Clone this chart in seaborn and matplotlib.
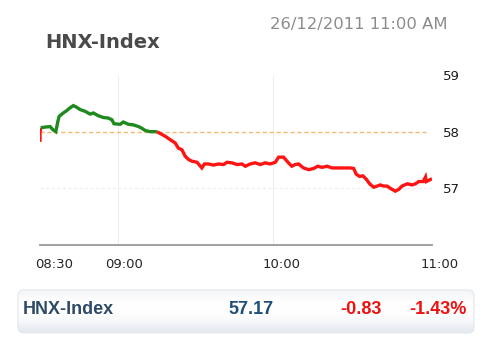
import matplotlib
matplotlib.use("Agg")
import matplotlib.pyplot as plt
import matplotlib.transforms as mtransforms
from matplotlib.patches import FancyBboxPatch
import numpy as np
import pandas as pd
import seaborn as sns

# ---- data ----
title = "HNX-Index"
timestamp = "26/12/2011 11:00 AM"
ref_close = 58.0
minutes = [0.0, 0.0, 0.3, 1.9, 3.9, 5.1, 6.1, 6.9, 7.4, 9.0, 10.3, 11.6, 12.9, 14.2, 15.5,
           17.4, 19.4, 20.6, 22.6, 24.5, 26.4, 27.8, 28.6, 31.0, 32.2, 34.2, 36.1, 38.1,
           39.4, 40.7, 42.6, 43.9, 45.2, 48.4, 50.3, 52.3, 53.5, 54.9, 56.1, 57.4, 58.7,
           60.7, 62.6, 63.6, 65.2, 67.1, 69.0, 71.0, 72.3, 74.2, 76.2, 78.1, 79.4, 81.3,
           83.2, 85.2, 87.1, 89.0, 91.0, 92.3, 94.2, 96.1, 97.4, 98.7, 100.0, 101.9,
           103.9, 105.8, 107.4, 109.1, 111.0, 112.9, 114.9, 117.4, 120.0, 121.3, 122.3,
           123.6, 124.9, 126.2, 127.5, 129.0, 130.4, 131.6, 132.9, 134.2, 135.5, 137.4,
           138.7, 140.0, 142.0, 143.9, 145.2, 146.5, 148.2, 149.1, 149.4, 150.3, 151.6]
values = [57.82, 57.98, 58.07, 58.08, 58.09, 58.03, 58.0, 58.18, 58.27, 58.33, 58.37, 58.42,
          58.46, 58.43, 58.39, 58.36, 58.31, 58.33, 58.28, 58.25, 58.24, 58.21, 58.14,
          58.13, 58.17, 58.13, 58.12, 58.09, 58.06, 58.02, 58.0, 58.0, 58.0, 57.92, 57.86,
          57.80, 57.71, 57.68, 57.57, 57.51, 57.48, 57.46, 57.36, 57.43, 57.43, 57.41,
          57.43, 57.42, 57.46, 57.45, 57.42, 57.43, 57.39, 57.43, 57.45, 57.42, 57.45,
          57.43, 57.46, 57.55, 57.55, 57.45, 57.39, 57.42, 57.43, 57.36, 57.33, 57.35,
          57.39, 57.37, 57.39, 57.36, 57.36, 57.36, 57.36, 57.35, 57.25, 57.21, 57.22,
          57.16, 57.08, 57.02, 57.04, 57.06, 57.04, 57.04, 57.0, 56.95, 56.98, 57.04,
          57.08, 57.06, 57.08, 57.12, 57.12, 57.20, 57.12, 57.14, 57.17]
tick_minutes = [0, 30, 90, 150]
tick_labels = ["08:30", "09:00", "10:00", "11:00"]
y_ticks = [57, 58, 59]
bar_name = "HNX-Index"
bar_value = "57.17"
bar_change = "-0.83"
bar_pct = "-1.43%"

# ---- figure ----
sns.set_theme(style="white")
plt.rcParams['font.family'] = ['DejaVu Sans']
W, H = 500, 357
fig = plt.figure(figsize=(W / 100, H / 100), dpi=100)
fig.patch.set_facecolor("white")

def px(x0, y0, x1, y1):
    return [x0 / W, 1 - y1 / H, (x1 - x0) / W, (y1 - y0) / H]

ax = fig.add_axes(px(40, 75, 432, 245))
ax.set_facecolor("white")

# build colored runs (green above previous close, red below)
df = pd.DataFrame({"t": minutes, "v": values})
up = (df["v"] >= ref_close).tolist()
runs = []
start = 0
cur = up[0] and up[1]
for i in range(1, len(df)):
    seg_up = up[i - 1] and up[i]
    if seg_up != cur:
        runs.append((start, i - 1, cur))
        start = i - 1
        cur = seg_up
runs.append((start, len(df) - 1, cur))

for a, b, is_up in runs:
    sub = df.iloc[a:b + 1].reset_index(drop=True)
    sns.lineplot(data=sub, x="t", y="v", ax=ax, color="#1e8a1e" if is_up else "#ff1414",
                 linewidth=2.4, sort=False, estimator=None, solid_joinstyle="miter",
                 solid_capstyle="butt", zorder=3)

# reference line
ax.plot([0, 150], [ref_close, ref_close], color="#f4b870", linewidth=1.0,
        linestyle=(0, (3, 2)), zorder=1)

ax.set_xlim(0, 151.6)
ax.set_ylim(56, 59)

# grid
for t in [30, 90]:
    ax.axvline(t, color="#eeeeee", linewidth=0.8, zorder=0)
ax.axhline(57, color="#eeeeee", linewidth=0.8, linestyle=(0, (3, 2)), zorder=0)

for s in ["top", "left", "right"]:
    ax.spines[s].set_visible(False)
ax.spines["bottom"].set_color("#9a9a9a")
ax.spines["bottom"].set_linewidth(1.3)

ax.set_xticks(tick_minutes)
ax.set_xticklabels(tick_labels)
ax.tick_params(axis="x", length=0, pad=9, labelsize=9.5, labelcolor="#262626")
offsets = [14, 6.5, 8.5, 11.5]
for lab, off in zip(ax.get_xticklabels(), offsets):
    lab.set_transform(lab.get_transform() + mtransforms.ScaledTranslation(off / 100, 0, fig.dpi_scale_trans))

ax.yaxis.tick_right()
ax.set_yticks(y_ticks)
ax.set_yticklabels([str(v) for v in y_ticks])
ax.tick_params(axis="y", length=0, pad=8, labelsize=9.5, labelcolor="#1a1a1a")
ax.set_xlabel("")
ax.set_ylabel("")

# title and timestamp
fig.text(45 / W, 1 - 43 / H, title, fontsize=14, fontweight="bold", color="#4a4a4a",
         ha="left", va="center")
fig.text(448 / W, 1 - 25 / H, timestamp, fontsize=11.8, color="#8c8c8c",
         ha="right", va="center")

# bottom bar
bax = fig.add_axes([0, 0, 1, 1], zorder=-1)
bax.set_xlim(0, W)
bax.set_ylim(H, 0)
bax.axis("off")
grad = np.array([[0.975], [0.995], [1.0], [1.0], [0.99], [0.97], [0.94]])
cm = matplotlib.colors.LinearSegmentedColormap.from_list("g", ["#d5dde6", "#ffffff"])
im = bax.imshow(grad, extent=[18, 474, 333, 290], cmap=cm, vmin=0.9, vmax=1.0,
                aspect="auto", interpolation="bicubic")
patch = FancyBboxPatch((18, 290), 456, 43, boxstyle="round,pad=0,rounding_size=6",
                       transform=bax.transData, facecolor="none", edgecolor="#e2e7ed", linewidth=0.8)
bax.add_patch(patch)
im.set_clip_path(patch)

fs = 13
fig.text(23 / W, 1 - 309 / H, bar_name, fontsize=fs, fontweight="bold", color="#2e4a66",
         ha="left", va="center", family="Liberation Sans")
fig.text(251 / W, 1 - 309 / H, bar_value, fontsize=fs, fontweight="bold", color="#1f4e79",
         ha="center", va="center", family="Liberation Sans")
fig.text(361 / W, 1 - 309 / H, bar_change, fontsize=fs, fontweight="bold", color="#ee1111",
         ha="center", va="center", family="Liberation Sans")
fig.text(467 / W, 1 - 309 / H, bar_pct, fontsize=fs, fontweight="bold", color="#ee1111",
         ha="right", va="center", family="Liberation Sans")

fig.savefig("out.png", dpi=100, facecolor="white")
